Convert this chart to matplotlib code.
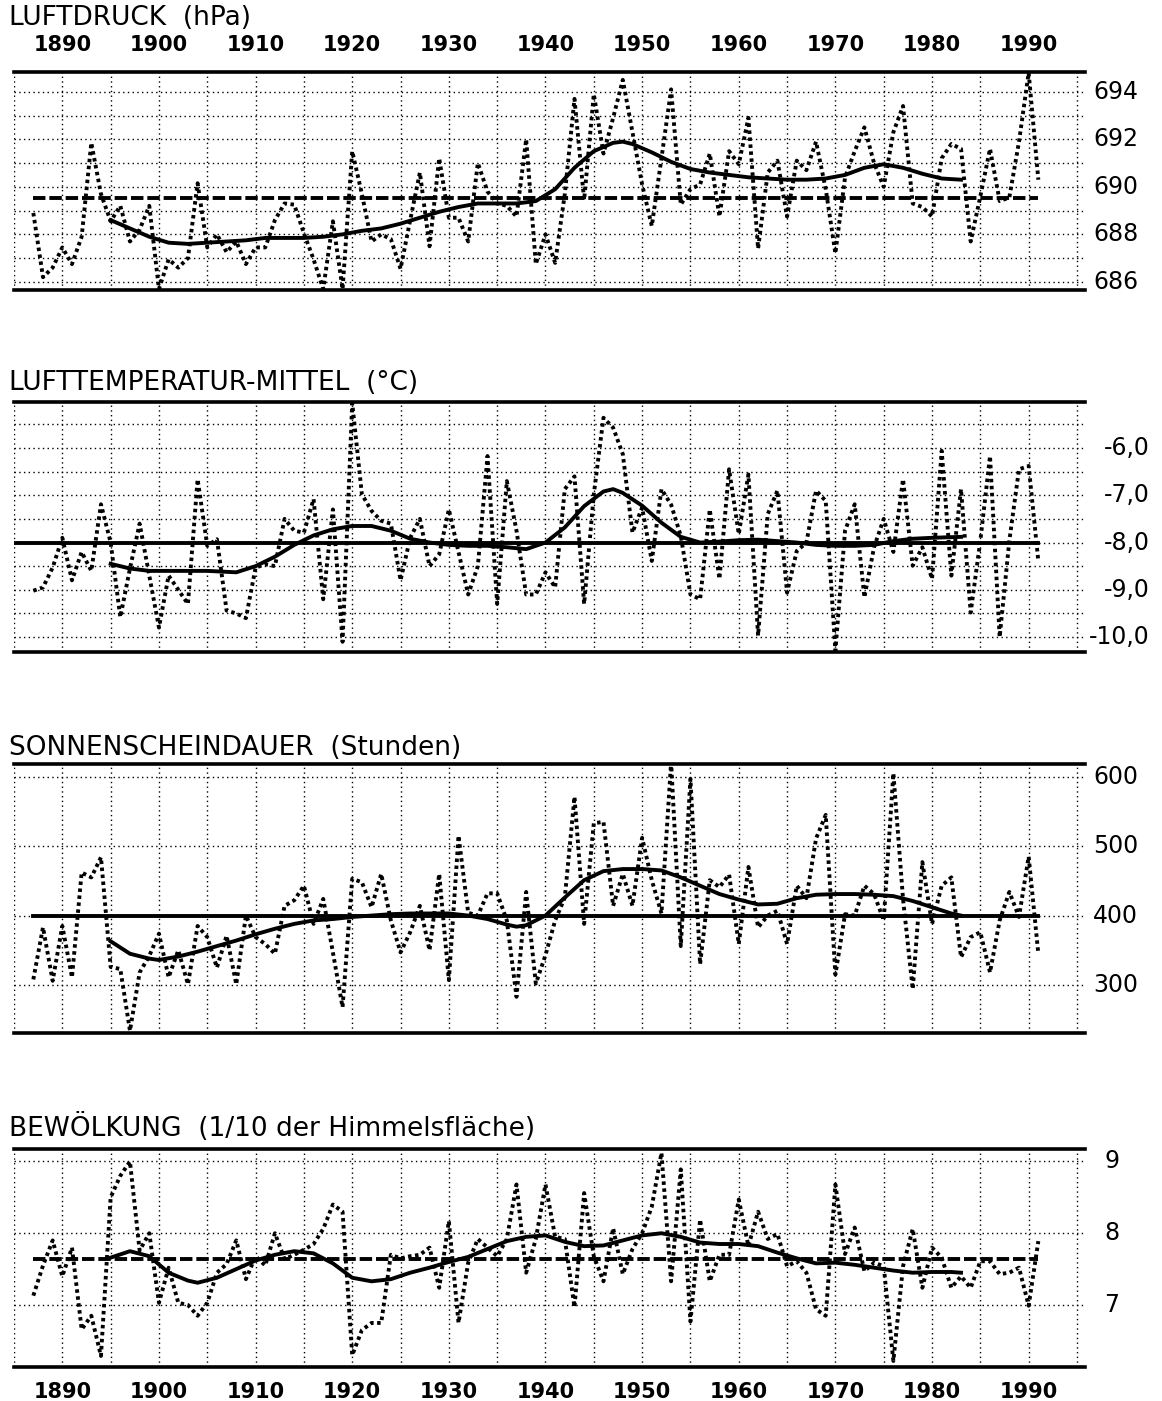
import matplotlib
matplotlib.use("Agg")
import matplotlib.pyplot as plt
from matplotlib.transforms import blended_transform_factory

# ---------------- data ----------------
years = list(range(1887, 1992))

pressure = [688.9, 686.2, 686.6,
            687.45, 686.75, 687.9, 691.85, 689.7, 688.55, 689.2, 687.7, 688.2, 689.2,
            685.7, 686.95, 686.6, 687.0, 690.15, 687.45, 688.0, 687.25, 687.7, 686.75,
            687.45, 687.45, 688.6, 689.3, 689.25, 688.05, 686.95, 685.7, 688.55, 685.7,
            691.5, 689.7, 687.7, 688.0, 687.8, 686.55, 688.6, 690.6, 687.5, 691.2,
            688.7, 688.7, 687.7, 691.0, 689.8, 689.3, 689.2, 688.75, 692.0, 686.75,
            688.0, 686.8, 689.7, 693.7, 689.45, 693.9, 691.4, 692.9, 694.5, 692.3,
            690.1, 688.35, 691.2, 694.1, 689.25, 689.9, 690.1, 691.4, 688.75, 691.5,
            690.95, 692.9, 687.4, 690.6, 691.1, 688.75, 691.1, 690.7, 691.9, 689.9,
            687.2, 690.4, 691.5, 692.5, 691.0, 690.0, 692.3, 693.4, 689.3, 689.15,
            688.75, 691.2, 691.8, 691.6, 687.7, 689.6, 691.6, 689.4, 689.55, 691.9,
            694.8, 690.3]

temperature = [-9.02, -8.95, -8.53,
               -7.9, -8.8, -8.2, -8.6, -7.19, -8.0, -9.58, -8.55, -7.6, -8.7,
               -9.8, -8.7, -9.0, -9.3, -6.66, -8.07, -7.93, -9.44, -9.5, -9.6,
               -8.53, -8.46, -8.5, -7.5, -7.75, -7.79, -7.08, -9.2, -7.3, -10.1,
               -5.05, -6.98, -7.33, -7.54, -7.6, -8.8, -7.9, -7.5, -8.5, -8.25,
               -7.3, -8.2, -9.1, -8.5, -6.17, -9.3, -6.7, -7.75, -9.1, -9.1,
               -8.63, -8.95, -6.87, -6.6, -9.3, -6.98, -5.36, -5.57, -6.13, -7.79,
               -7.26, -8.39, -6.87, -7.2, -7.86, -9.1, -9.2, -7.3, -8.77, -6.45,
               -7.82, -6.56, -9.97, -7.4, -6.9, -9.06, -8.18, -8.0, -6.9, -7.12,
               -10.29, -7.75, -7.19, -9.16, -8.1, -7.5, -8.2, -6.66, -8.49, -8.1,
               -8.77, -6.06, -8.7, -6.87, -9.48, -7.96, -6.17, -10.0, -7.96, -6.45,
               -6.38, -8.39]

sunshine = [308, 383, 306,
            385, 311, 462, 455, 484, 326, 323, 234, 318, 342,
            374, 311, 350, 301, 385, 369, 325, 371, 301, 400,
            369, 359, 345, 414, 422, 443, 388, 424, 347, 268,
            453, 448, 412, 460, 393, 347, 376, 414, 350, 460,
            307, 515, 404, 400, 432, 432, 393, 283, 434, 302,
            343, 393, 426, 571, 388, 533, 535, 414, 460, 414,
            512, 451, 403, 621, 356, 597, 330, 451, 441, 459,
            359, 470, 383, 400, 407, 359, 443, 425, 511, 545,
            315, 402, 400, 443, 431, 393, 605, 424, 294, 477,
            388, 443, 455, 340, 369, 376, 318, 393, 434, 398,
            485, 345]

cloud = [7.13, 7.55, 7.9,
         7.4, 7.8, 6.66, 6.85, 6.29, 8.5, 8.8, 9.0, 7.76, 8.0,
         7.03, 7.52, 7.03, 7.0, 6.85, 7.03, 7.45, 7.57, 7.9, 7.36,
         7.68, 7.55, 8.0, 7.64, 7.7, 7.77, 7.85, 8.06, 8.4, 8.3,
         6.3, 6.65, 6.75, 6.75, 7.7, 7.65, 7.68, 7.7, 7.8, 7.24,
         8.17, 6.75, 7.59, 7.92, 7.8, 7.68, 7.92, 8.68, 7.45, 7.92,
         8.68, 7.95, 7.92, 6.97, 8.56, 7.68, 7.33, 8.07, 7.43, 7.78,
         8.0, 8.37, 9.12, 7.33, 8.89, 6.77, 8.19, 7.33, 7.7, 7.7,
         8.47, 7.82, 8.3, 7.92, 7.99, 7.54, 7.61, 7.45, 6.94, 6.85,
         8.68, 7.71, 8.08, 7.47, 7.59, 7.54, 6.22, 7.54, 8.06, 7.24,
         7.8, 7.66, 7.24, 7.4, 7.24, 7.61, 7.61, 7.43, 7.45, 7.52,
         6.99, 7.89]

# smoothed curves
p_smooth_years = [1895, 1897, 1899, 1901, 1903, 1905, 1907, 1909, 1911, 1913, 1915, 1917,
                  1919, 1921, 1923, 1925, 1927, 1929, 1931, 1933, 1935, 1937, 1939, 1941,
                  1943, 1945, 1947, 1948, 1949, 1951, 1953, 1955, 1957, 1959, 1961, 1963,
                  1965, 1967, 1969, 1971, 1973, 1975, 1977, 1979, 1981, 1983]
p_smooth = [688.6, 688.25, 687.9, 687.65, 687.6, 687.65, 687.7, 687.75, 687.85, 687.85,
            687.85, 687.9, 688.0, 688.15, 688.25, 688.45, 688.7, 688.95, 689.15, 689.3,
            689.3, 689.3, 689.4, 689.9, 690.8, 691.5, 691.85, 691.9, 691.8, 691.45,
            691.05, 690.75, 690.6, 690.5, 690.4, 690.35, 690.3, 690.3, 690.35, 690.5,
            690.8, 690.95, 690.8, 690.55, 690.35, 690.3]

t_smooth_years = [1895, 1897, 1899, 1901, 1903, 1905, 1907, 1908, 1910, 1912, 1914, 1916,
                  1918, 1920, 1922, 1924, 1926, 1928, 1930, 1932, 1934, 1936, 1938, 1940,
                  1942, 1944, 1946, 1947, 1948, 1950, 1952, 1954, 1956, 1958, 1960, 1962,
                  1964, 1966, 1968, 1970, 1972, 1974, 1976, 1978, 1980, 1983]
t_smooth = [-8.45, -8.55, -8.6, -8.6, -8.6, -8.6, -8.62, -8.63, -8.5, -8.3, -8.05, -7.85,
            -7.72, -7.65, -7.65, -7.75, -7.92, -8.0, -8.05, -8.07, -8.07, -8.1, -8.14, -8.0,
            -7.68, -7.23, -6.92, -6.87, -6.95, -7.22, -7.58, -7.88, -8.0, -7.98, -7.95, -7.94,
            -7.97, -8.0, -8.05, -8.07, -8.07, -8.05, -7.97, -7.92, -7.9, -7.88]

s_smooth_years = [1895, 1897, 1899, 1900, 1902, 1904, 1906, 1908, 1910, 1912, 1914, 1916,
                  1918, 1920, 1922, 1924, 1926, 1928, 1930, 1932, 1934, 1936, 1937, 1938,
                  1940, 1942, 1944, 1946, 1948, 1950, 1952, 1954, 1956, 1958, 1960, 1962,
                  1964, 1966, 1968, 1970, 1972, 1974, 1976, 1978, 1980, 1982, 1983]
s_smooth = [363, 345, 338, 336, 341, 348, 356, 364, 373, 381, 388, 393,
            395, 398, 400, 402, 403, 403, 403, 400, 395, 387, 384, 386,
            400, 426, 451, 464, 467, 467, 465, 455, 443, 431, 423, 416,
            417, 425, 430, 431, 431, 430, 428, 421, 412, 403, 400]

c_smooth_years = [1895, 1897, 1899, 1901, 1903, 1904, 1906, 1908, 1910, 1912, 1914, 1916,
                  1918, 1920, 1922, 1924, 1926, 1928, 1930, 1932, 1934, 1936, 1938, 1940,
                  1942, 1944, 1946, 1948, 1950, 1952, 1954, 1956, 1958, 1960, 1962, 1964,
                  1966, 1968, 1970, 1972, 1974, 1976, 1978, 1980, 1982, 1983]
c_smooth = [7.66, 7.75, 7.68, 7.45, 7.34, 7.31, 7.38, 7.5, 7.62, 7.7, 7.75, 7.72,
            7.58, 7.38, 7.33, 7.36, 7.45, 7.52, 7.6, 7.67, 7.78, 7.89, 7.95, 7.97,
            7.88, 7.82, 7.83, 7.9, 7.97, 8.0, 7.95, 7.87, 7.85, 7.85, 7.82, 7.73,
            7.65, 7.58, 7.59, 7.56, 7.52, 7.48, 7.45, 7.46, 7.46, 7.45]

means = [689.55, -8.0, 400, 7.64]
mean_spans = [(1887, 1991), (1885, 1991), (1887, 1991), (1887, 1991)]

titles = ["LUFTDRUCK  (hPa)", "LUFTTEMPERATUR-MITTEL  (°C)",
          "SONNENSCHEINDAUER  (Stunden)", "BEWÖLKUNG  (1/10 der Himmelsfläche)"]

ytick_vals = [[686, 688, 690, 692, 694], [-6, -7, -8, -9, -10], [300, 400, 500, 600], [7, 8, 9]]
ytick_labels = [["686", "688", "690", "692", "694"],
                ["-6,0", "-7,0", "-8,0", "-9,0", "-10,0"],
                ["300", "400", "500", "600"], ["7", "8", "9"]]
hgrid = [[686, 687, 688, 689, 690, 691, 692, 693, 694],
         [-10, -9.5, -9, -8.5, -8, -7.5, -7, -6.5, -6, -5.5],
         [300, 400, 500, 600], [7, 8, 9]]
ylims = [(685.66, 694.83), (-10.31, -5.02), (230.4, 617.9), (6.14, 9.17)]

xtick_years = [1890, 1900, 1910, 1920, 1930, 1940, 1950, 1960, 1970, 1980, 1990]
vgrid_years = list(range(1885, 1996, 5))

series = [pressure, temperature, sunshine, cloud]
smooth_x = [p_smooth_years, t_smooth_years, s_smooth_years, c_smooth_years]
smooth_y = [p_smooth, t_smooth, s_smooth, c_smooth]
mean_dashed = [True, False, False, True]

# ---------------- layout ----------------
W, H = 1162, 1401
fig = plt.figure(figsize=(W / 100, H / 100), dpi=100)
fig.patch.set_facecolor("white")

frames = [(72, 290), (401.7, 651.7), (764.3, 1033.3), (1149.3, 1366.7)]
title_y = [18, 383, 748, 1128]
left_px, right_px = 14, 1085

dot_ls = (0, (1, 2.4))
for i in range(4):
    top, bot = frames[i]
    ax = fig.add_axes([left_px / W, 1 - bot / H, (right_px - left_px) / W, (bot - top) / H])
    ax.set_xlim(1885, 1995.83)
    ax.set_ylim(*ylims[i])
    ax.set_xticks([])
    ax.set_yticks([])
    for s in ["left", "right"]:
        ax.spines[s].set_visible(False)
    for s in ["top", "bottom"]:
        ax.spines[s].set_linewidth(2.6)

    for gx in vgrid_years:
        ax.axvline(gx, color="black", lw=1.0, ls=dot_ls, zorder=1)
    for gy in hgrid[i]:
        ax.axhline(gy, color="black", lw=1.0, ls=dot_ls, zorder=1)

    ax.plot(years, series[i], color="black", lw=2.8, ls=(0, (0.9, 0.9)),
            dash_capstyle="butt", zorder=3)
    ax.plot(smooth_x[i], smooth_y[i], color="black", lw=2.8, zorder=4)
    x0, x1 = mean_spans[i]
    if mean_dashed[i]:
        ax.plot([x0, x1], [means[i], means[i]], color="black", lw=2.8,
                ls=(0, (3.2, 1.0)), zorder=2)
    else:
        ax.plot([x0, x1], [means[i], means[i]], color="black", lw=2.8, zorder=2)

    tr = blended_transform_factory(fig.transFigure, ax.transData)
    for v, lab in zip(ytick_vals[i], ytick_labels[i]):
        if i == 1:
            ax.text(1150 / W, v, lab, transform=tr, ha="right", va="center",
                    fontsize=17, family="DejaVu Sans", clip_on=False)
        elif i == 3:
            ax.text(1104 / W, v, lab, transform=tr, ha="left", va="center",
                    fontsize=17, family="DejaVu Sans", clip_on=False)
        else:
            ax.text(1093 / W, v, lab, transform=tr, ha="left", va="center",
                    fontsize=17, family="DejaVu Sans", clip_on=False)

    fig.text(9 / W, 1 - title_y[i] / H, titles[i], ha="left", va="center",
             fontsize=19, family="DejaVu Sans")

    if i in (0, 3):
        ly = 45 if i == 0 else 1392
        trx = blended_transform_factory(ax.transData, fig.transFigure)
        for yr in xtick_years:
            ax.text(yr, 1 - ly / H, str(yr), transform=trx, ha="center", va="center",
                    fontsize=15, fontweight="bold", family="DejaVu Sans", clip_on=False)

fig.savefig("out.png", dpi=100, facecolor="white")
